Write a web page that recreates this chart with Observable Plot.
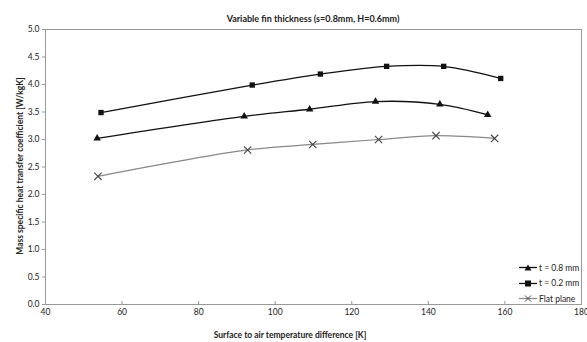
<!DOCTYPE html>
<html>
<head>
<meta charset="utf-8">
<script src="https://cdn.jsdelivr.net/npm/d3@7"></script>
<script src="https://cdn.jsdelivr.net/npm/@observablehq/plot@0.6"></script>
<style>
  html, body { margin: 0; padding: 0; background: #fff; }
  #wrap { position: relative; width: 587px; height: 342px; font-family: Lato, "Open Sans", sans-serif; color: #222; }
  .t { position: absolute; white-space: nowrap; }
  #title { left: 313px; top: 13px; transform: translateX(-50%); font-weight: bold; font-size: 9px; }
  #xlab { left: 290px; top: 330px; transform: translateX(-50%); font-weight: bold; font-size: 8.5px; }
  #ylab { left: 20px; top: 166px; transform: translate(-50%, -50%) rotate(-90deg); font-weight: bold; font-size: 8.5px; }
  #legend { position: absolute; left: 519px; top: 260px; font-size: 8.5px; }
  .row { display: flex; align-items: center; height: 15.5px; }
  .row svg { margin-right: 2px; }
</style>
</head>
<body>
<div id="wrap">
  <div id="chart"></div>
  <div class="t" id="title">Variable fin thickness (s=0.8mm, H=0.6mm)</div>
  <div class="t" id="xlab">Surface to air temperature difference [K]</div>
  <div class="t" id="ylab">Mass specific heat transfer coefficient [W/kgK]</div>
  <div id="legend"></div>
</div>
<script>
const seriesNames = ["t = 0.8 mm", "t = 0.2 mm", "Flat plane"];
const xT08 = [53.5, 91.9, 109.0, 126.2, 143.0, 155.5];
const yT08 = [3.02, 3.42, 3.55, 3.69, 3.64, 3.45];
const xT02 = [54.5, 94.0, 111.8, 129.1, 144.0, 158.9];
const yT02 = [3.49, 3.99, 4.19, 4.33, 4.33, 4.11];
const xFlat = [53.7, 92.8, 109.8, 127.0, 142.0, 157.3];
const yFlat = [2.33, 2.81, 2.91, 3.00, 3.07, 3.02];
const xTicks = [40, 60, 80, 100, 120, 140, 160, 180];
const yTicks = [0, 0.5, 1, 1.5, 2, 2.5, 3, 3.5, 4, 4.5, 5];

const styles = {
  "t = 0.8 mm": {stroke: "#111", symbol: "triangle2", r: 3.6, width: 1.3},
  "t = 0.2 mm": {stroke: "#111", symbol: "square2", r: 3.4, width: 1.3},
  "Flat plane": {stroke: "#888", symbol: "times", r: 3.4, width: 1.2, markStroke: "#444"}
};

const rows = [];
[[xT08, yT08], [xT02, yT02], [xFlat, yFlat]].forEach(([xs, ys], i) => {
  xs.forEach((x, j) => rows.push({series: seriesNames[i], x, y: ys[j]}));
});

const marks = [
  Plot.frame({stroke: "#999", strokeWidth: 1}),
  Plot.axisX({ticks: xTicks, tickSize: -3, tickPadding: 7, fontSize: 8.5, stroke: "#999", color: "#222", label: null, anchor: "bottom"}),
  Plot.axisY({ticks: yTicks, tickSize: 3, tickPadding: 3, fontSize: 8.5, tickFormat: d3.format(".1f"), stroke: "#999", label: null, anchor: "left"})
];
seriesNames.forEach(name => {
  const s = styles[name];
  const d = rows.filter(r => r.series === name);
  marks.push(Plot.line(d, {x: "x", y: "y", stroke: s.stroke, strokeWidth: s.width, curve: "catmull-rom"}));
  if (s.symbol === "times") {
    marks.push(Plot.dot(d, {x: "x", y: "y", symbol: "times", r: s.r, stroke: s.markStroke, strokeWidth: 1.1}));
  } else {
    marks.push(Plot.dot(d, {x: "x", y: "y", symbol: s.symbol, r: s.r, fill: s.stroke, stroke: "none"}));
  }
});

const chart = Plot.plot({
  width: 587, height: 342,
  marginLeft: 45, marginRight: 6, marginTop: 29, marginBottom: 38,
  style: {fontFamily: "Lato, 'Open Sans', sans-serif", color: "#222", background: "#fff"},
  x: {domain: [40, 180]},
  y: {domain: [0, 5]},
  marks
});
document.getElementById("chart").appendChild(chart);

const legend = document.getElementById("legend");
seriesNames.forEach(name => {
  const s = styles[name];
  const row = document.createElement("div");
  row.className = "row";
  let sym;
  if (s.symbol === "triangle2") sym = `<path d="M9,2.5 L12.5,8.5 L5.5,8.5 Z" fill="${s.stroke}"/>`;
  else if (s.symbol === "square2") sym = `<rect x="6" y="2.5" width="6" height="6" fill="${s.stroke}"/>`;
  else sym = `<path d="M6,2.5 L12,8.5 M12,2.5 L6,8.5" stroke="${s.markStroke}" stroke-width="1"/>`;
  row.innerHTML = `<svg width="18" height="11"><line x1="0" x2="18" y1="5.5" y2="5.5" stroke="${s.stroke}" stroke-width="${s.width}"/>${sym}</svg><span>${name}</span>`;
  legend.appendChild(row);
});
</script>
</body>
</html>
